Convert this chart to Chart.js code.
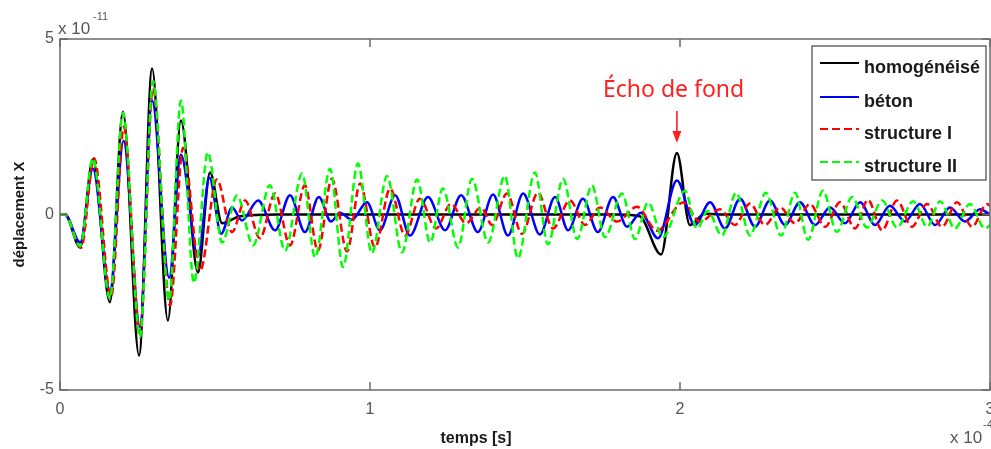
<!DOCTYPE html>
<html lang="fr">
<head>
<meta charset="UTF-8">
<title>déplacement X</title>
<script src="https://cdn.jsdelivr.net/npm/chart.js"></script>
<style>
  html, body { margin: 0; padding: 0; background: #fff; }
  #wrap { position: relative; width: 991px; height: 449px; }
</style>
</head>
<body>
<div id="wrap"><canvas id="chart"></canvas></div>
<script>
// temps en 1e-4 s, déplacement en 1e-11
const xTicks = [0, 1, 2, 3];
const yTicks = [-5, 0, 5];

const homogX = [0, 0.016, 0.065, 0.106, 0.161, 0.203, 0.255, 0.297, 0.348, 0.390, 0.445, 0.484, 0.523, 0.581, 0.70, 1.20, 1.80, 1.87, 1.939, 1.990, 2.032, 2.080, 2.15, 3.0];
const homogY = [0, 0, -0.94, 1.57, -2.5, 2.93, -4.02, 4.16, -3.02, 2.68, -1.65, 1.2, -0.25, -0.05, 0, 0, 0, -0.05, -1.14, 1.75, -0.3, 0.02, 0, 0];

const betonX = [0, 0.016, 0.065, 0.106, 0.161, 0.205, 0.258, 0.297, 0.352, 0.390, 0.445, 0.482, 0.520,
  0.555, 0.587, 0.639, 0.694, 0.742, 0.790, 0.835, 0.874, 0.903, 0.942, 0.990, 1.032, 1.081, 1.129, 1.187,
  1.242, 1.294, 1.348, 1.397, 1.445, 1.494, 1.548, 1.597, 1.639, 1.687, 1.735, 1.784, 1.829, 1.874, 1.929,
  1.990, 2.048, 2.097, 2.145, 2.194, 2.242, 2.290, 2.339, 2.387, 2.435, 2.484, 2.532, 2.581, 2.629, 2.677,
  2.726, 2.774, 2.823, 2.871, 2.919, 2.968, 3.0];
const betonY = [0, 0, -0.8, 1.3, -2.17, 2.1, -3.2, 3.25, -1.8, 1.7, -1.2, 1.05, -0.55,
  0.2, -0.17, 0.4, -0.45, 0.55, -0.5, 0.5, -0.2, 0.05, -0.15, 0.35, -0.45, 0.55, -0.6, 0.5,
  -0.45, 0.55, -0.5, 0.57, -0.6, 0.6, -0.57, 0.5, -0.45, 0.45, -0.5, 0.5, -0.35, 0.05, -0.68,
  0.97, -0.3, 0.35, -0.4, 0.45, -0.35, 0.4, -0.3, 0.35, -0.3, 0.2, -0.25, 0.35, -0.3, 0.25,
  -0.2, 0.3, -0.3, 0.2, -0.2, 0.15, 0];

const struct1X = [0, 0.016, 0.068, 0.110, 0.165, 0.206, 0.258, 0.300, 0.355, 0.397, 0.452, 0.506, 0.555,
  0.597, 0.645, 0.694, 0.742, 0.790, 0.832, 0.877, 0.926, 0.968, 1.016, 1.065, 1.113, 1.161, 1.213, 1.261,
  1.310, 1.358, 1.394, 1.442, 1.490, 1.542, 1.590, 1.645, 1.694, 1.742, 1.797, 1.861, 1.926, 2.010, 2.065,
  2.129, 2.177, 2.226, 2.274, 2.323, 2.371, 2.419, 2.468, 2.516, 2.565, 2.606, 2.652, 2.700, 2.748, 2.797,
  2.845, 2.894, 2.942, 2.990, 3.0];
const struct1Y = [0, 0, -0.95, 1.6, -2.35, 2.5, -3.4, 3.6, -2.6, 1.9, -1.6, 1.0, -0.5,
  0.4, -0.68, 0.6, -0.88, 0.83, -1.03, 1.02, -1.05, 0.88, -0.94, 0.74, -0.6, 0.45, -0.4, 0.3,
  -0.25, 0.2, -0.3, 0.6, -0.55, 0.62, -0.4, 0.4, -0.3, 0.2, -0.2, 0.22, -0.46, 0.34, -0.2,
  0.15, -0.3, 0.31, -0.3, 0.2, -0.25, 0.3, -0.35, 0.35, -0.4, 0.42, -0.45, 0.4, -0.35, 0.3,
  -0.35, 0.35, -0.35, 0.3, 0.25];

const struct2X = [0, 0.016, 0.065, 0.106, 0.161, 0.203, 0.258, 0.300, 0.352, 0.390, 0.432, 0.477, 0.523,
  0.571, 0.623, 0.677, 0.726, 0.781, 0.823, 0.871, 0.913, 0.961, 1.006, 1.055, 1.103, 1.152, 1.194, 1.235,
  1.284, 1.329, 1.381, 1.435, 1.477, 1.532, 1.574, 1.623, 1.668, 1.716, 1.758, 1.813, 1.855, 1.897, 1.945,
  2.016, 2.055, 2.090, 2.135, 2.181, 2.226, 2.277, 2.326, 2.371, 2.413, 2.461, 2.506, 2.555, 2.603, 2.652,
  2.700, 2.752, 2.797, 2.839, 2.887, 2.935, 2.984, 3.0];
const struct2Y = [0, 0, -0.9, 1.6, -2.4, 2.9, -3.5, 3.8, -2.45, 3.25, -1.95, 1.77, -0.8,
  0.54, -0.88, 0.83, -1.03, 1.17, -1.22, 1.3, -1.5, 1.45, -1.1, 1.1, -1.08, 1.0, -0.8, 0.74,
  -0.94, 1.02, -0.8, 1.1, -1.25, 1.2, -0.85, 1.02, -0.7, 0.83, -0.65, 0.6, -0.7, 0.34, -0.65,
  0.68, -0.4, 0.1, -0.6, 0.62, -0.6, 0.62, -0.6, 0.62, -0.72, 0.68, -0.5, 0.5, -0.37, 0.4,
  -0.37, 0.38, -0.35, 0.38, -0.4, 0.3, -0.4, -0.3];

const seriesNames = ['homogénéisé', 'béton', 'structure I', 'structure II'];
const seriesColors = ['#000000', '#0000ff', '#ff0000', '#00ff00'];

function pts(xs, ys) {
  return xs.map((x, i) => ({ x: x, y: ys[i] }));
}

function line(i, xs, ys, dash, order) {
  return {
    label: seriesNames[i],
    data: pts(xs, ys),
    borderColor: seriesColors[i],
    borderWidth: 2.5,
    borderDash: dash,
    pointRadius: 0,
    cubicInterpolationMode: 'monotone',
    order: order
  };
}

const tickFont = { family: 'Liberation Sans, Arial, sans-serif', size: 16 };
const greyText = '#555555';

// boîte, graduations internes, légende et annotation
const matlabLook = {
  id: 'matlabLook',
  afterDraw(chart) {
    const { ctx, chartArea: a, scales: { x, y } } = chart;
    ctx.save();
    ctx.strokeStyle = '#6b6b6b';
    ctx.lineWidth = 1.5;
    ctx.strokeRect(a.left, a.top, a.right - a.left, a.bottom - a.top);
    ctx.beginPath();
    xTicks.forEach(v => {
      const px = x.getPixelForValue(v);
      ctx.moveTo(px, a.bottom); ctx.lineTo(px, a.bottom - 8);
      ctx.moveTo(px, a.top); ctx.lineTo(px, a.top + 8);
    });
    yTicks.forEach(v => {
      const py = y.getPixelForValue(v);
      ctx.moveTo(a.left, py); ctx.lineTo(a.left + 8, py);
      ctx.moveTo(a.right, py); ctx.lineTo(a.right - 8, py);
    });
    ctx.stroke();

    // multiplicateurs
    ctx.fillStyle = greyText;
    ctx.textBaseline = 'alphabetic';
    ctx.font = '17px Liberation Sans, Arial, sans-serif';
    ctx.fillText('x 10', a.left - 2, 34);
    ctx.fillText('x 10', 950, 443);
    ctx.font = '11px Liberation Sans, Arial, sans-serif';
    ctx.fillText('-11', a.left + 33, 20);
    ctx.fillText('-4', 983, 428);

    // titre axe x
    ctx.fillStyle = '#1a1a1a';
    ctx.font = 'bold 16px Liberation Sans, Arial, sans-serif';
    ctx.textAlign = 'center';
    ctx.fillText('temps [s]', 476, 443);
    ctx.textAlign = 'left';

    // légende
    const lx = 812, ly = 46, lw = 174, lh = 134;
    ctx.fillStyle = '#ffffff';
    ctx.fillRect(lx, ly, lw, lh);
    ctx.strokeStyle = '#444444';
    ctx.lineWidth = 1.2;
    ctx.strokeRect(lx, ly, lw, lh);
    const rows = [63, 97, 129, 162];
    chart.data.datasets.forEach((ds, i) => {
      ctx.strokeStyle = ds.borderColor;
      ctx.lineWidth = 2;
      ctx.setLineDash(ds.borderDash || []);
      ctx.beginPath();
      ctx.moveTo(820, rows[i]);
      ctx.lineTo(859, rows[i]);
      ctx.stroke();
      ctx.setLineDash([]);
      ctx.fillStyle = '#1a1a1a';
      ctx.font = 'bold 18px Liberation Sans, Arial, sans-serif';
      ctx.fillText(ds.label, 864, rows[i] + 10);
    });

    // écho de fond
    const ex = x.getPixelForValue(1.99);
    ctx.fillStyle = '#ff1f1f';
    ctx.strokeStyle = '#ff1f1f';
    ctx.font = '23px Noto Sans, sans-serif';
    ctx.fillText('Écho de fond', 603, 97);
    ctx.lineWidth = 1.6;
    ctx.beginPath();
    ctx.moveTo(ex, 111);
    ctx.lineTo(ex, 134);
    ctx.stroke();
    ctx.beginPath();
    ctx.moveTo(ex - 4.5, 131);
    ctx.lineTo(ex + 4.5, 131);
    ctx.lineTo(ex, 143);
    ctx.closePath();
    ctx.fill();
    ctx.restore();
  }
};

new Chart(document.getElementById('chart'), {
  type: 'line',
  data: {
    datasets: [
      line(0, homogX, homogY, [], 3),
      line(1, betonX, betonY, [], 2),
      line(2, struct1X, struct1Y, [8, 4], 1),
      line(3, struct2X, struct2Y, [8, 4], 0)
    ]
  },
  options: {
    responsive: true,
    maintainAspectRatio: false,
    animation: false,
    layout: { padding: { top: 39, right: 1, left: 0, bottom: 0 } },
    plugins: { legend: { display: false }, tooltip: { enabled: false } },
    scales: {
      x: {
        type: 'linear',
        min: 0, max: 3,
        afterBuildTicks: s => { s.ticks = xTicks.map(v => ({ value: v })); },
        afterFit: s => { s.height = 59; s.paddingLeft = 0; s.paddingRight = 0; },
        grid: { display: false, drawTicks: false },
        border: { display: false },
        ticks: { font: tickFont, color: greyText, padding: 10, maxRotation: 0, autoSkip: false }
      },
      y: {
        type: 'linear',
        min: -5, max: 5,
        afterBuildTicks: s => { s.ticks = yTicks.map(v => ({ value: v })); },
        afterFit: s => { s.width = 60; },
        grid: { display: false, drawTicks: false },
        border: { display: false },
        ticks: { font: tickFont, color: greyText, padding: 6 },
        title: {
          display: true,
          text: 'déplacement X',
          color: '#1a1a1a',
          font: { family: 'Liberation Sans, Arial, sans-serif', size: 15, weight: 'bold' },
          padding: { top: 11, bottom: 0 }
        }
      }
    }
  },
  plugins: [matlabLook]
});
</script>
</body>
</html>
